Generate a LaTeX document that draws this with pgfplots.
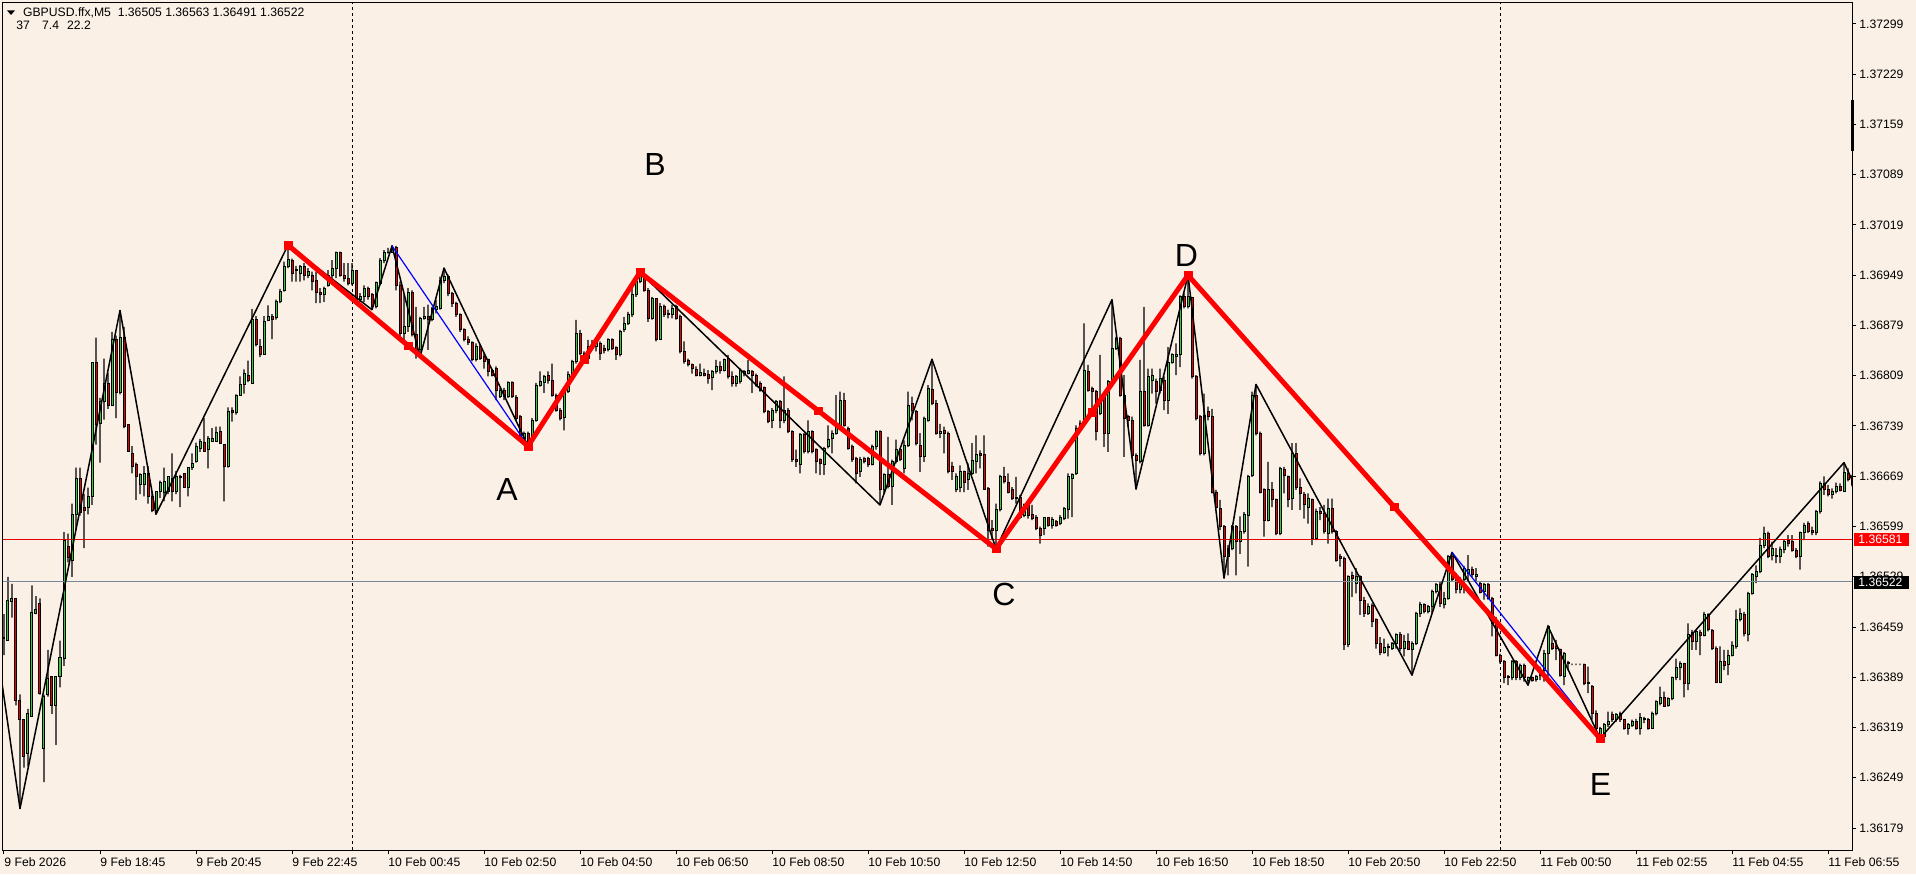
\documentclass[border=0pt]{standalone}
\usepackage{pgfplots}
\pgfplotsset{compat=1.18}
\usepackage{pgfplotstable}
\usepackage{fontspec}
\setmainfont{Liberation Sans}
\definecolor{bg}{RGB}{250,240,230}
\definecolor{bull}{RGB}{50,205,50}
\definecolor{bear}{RGB}{230,0,0}
\definecolor{slate}{RGB}{119,136,153}
\pgfplotstableread{
i o h l c
0 136445 136477 136420 136443
1 136440 136529 136440 136496
2 136494 136519 136472 136499
3 136499 136499 136350 136357
4 136357 136365 136206 136330
5 136330 136330 136263 136278
6 136283 136345 136265 136338
7 136335 136517 136335 136479
8 136478 136502 136477 136483
9 136492 136499 136365 136367
10 136290 136365 136243 136362
11 136365 136427 136362 136387
12 136390 136390 136338 136350
13 136350 136390 136295 136390
14 136390 136440 136375 136417
15 136415 136591 136405 136579
16 136571 136589 136549 136556
17 136551 136631 136529 136616
18 136616 136681 136594 136666
19 136666 136681 136614 136619
20 136625 136644 136569 136621
21 136626 136653 136616 136641
22 136641 136828 136629 136828
23 136828 136862 136713 136741
24 136743 136778 136688 136773
25 136773 136833 136748 136798
26 136798 136813 136763 136768
27 136768 136870 136768 136860
28 136860 136865 136750 136785
29 136785 136900 136783 136862
30 136862 136877 136736 136738
31 136741 136741 136703 136703
32 136701 136711 136673 136683
33 136686 136688 136636 136668
34 136658 136673 136644 136671
35 136658 136683 136641 136673
36 136673 136683 136631 136641
37 136641 136648 136619 136621
38 136621 136648 136616 136648
39 136648 136663 136639 136661
40 136646 136681 136634 136662
41 136648 136668 136644 136668
42 136666 136701 136634 136648
43 136648 136676 136644 136669
44 136669 136671 136626 136667
45 136673 136673 136654 136654
46 136654 136681 136641 136681
47 136681 136701 136678 136687
48 136689 136716 136688 136710
49 136707 136721 136703 136717
50 136716 136750 136703 136703
51 136706 136725 136680 136722
52 136718 136736 136718 136722
53 136718 136738 136718 136730
54 136731 136738 136715 136715
55 136713 136713 136634 136683
56 136683 136765 136681 136759
57 136760 136765 136745 136758
58 136758 136783 136755 136782
59 136782 136808 136781 136797
60 136797 136818 136784 136812
61 136809 136830 136800 136803
62 136798 136902 136798 136887
63 136887 136892 136850 136852
64 136850 136860 136835 136839
65 136839 136892 136838 136885
66 136886 136907 136885 136891
67 136891 136895 136860 136888
68 136890 136915 136887 136912
69 136912 136930 136910 136927
70 136928 136968 136926 136961
71 136961 136991 136959 136971
72 136970 136972 136940 136952
73 136956 136961 136940 136955
74 136952 136963 136940 136961
75 136961 136966 136942 136949
76 136949 136959 136945 136954
77 136949 136954 136928 136940
78 136942 136954 136910 136925
79 136925 136931 136910 136922
80 136922 136933 136912 136931
81 136935 136956 136933 136949
82 136949 136970 136945 136959
83 136959 136982 136945 136980
84 136980 136982 136947 136949
85 136949 136966 136940 136945
86 136945 136966 136935 136937
87 136937 136966 136935 136956
88 136956 136956 136908 136915
89 136915 136924 136912 136920
90 136919 136935 136912 136931
91 136931 136933 136915 136919
92 136922 136924 136901 136906
93 136906 136940 136903 136939
94 136938 136973 136935 136970
95 136970 136984 136966 136980
96 136980 136987 136979 136981
97 136981 136990 136980 136987
98 136987 136990 136928 136935
99 136935 136940 136864 136868
100 136868 136922 136859 136877
101 136877 136931 136870 136925
102 136925 136928 136864 136866
103 136866 136905 136833 136845
104 136845 136891 136835 136889
105 136889 136905 136887 136891
106 136891 136908 136845 136887
107 136887 136905 136885 136902
108 136901 136915 136896 136905
109 136903 136947 136901 136942
110 136942 136959 136938 136947
111 136947 136950 136920 136924
112 136924 136926 136905 136910
113 136910 136912 136891 136894
114 136894 136896 136870 136873
115 136873 136875 136857 136859
116 136859 136864 136852 136855
117 136855 136857 136829 136831
118 136831 136854 136829 136850
119 136850 136853 136831 136833
120 136836 136840 136819 136829
121 136831 136833 136808 136815
122 136817 136819 136808 136810
123 136819 136822 136775 136789
124 136780 136792 136778 136789
125 136789 136792 136775 136780
126 136780 136801 136778 136800
127 136800 136801 136778 136780
128 136779 136782 136747 136750
129 136752 136754 136720 136722
130 136722 136731 136717 136729
131 136729 136731 136711 136715
132 136717 136750 136715 136747
133 136747 136799 136745 136796
134 136796 136815 136794 136801
135 136800 136810 136785 136808
136 136809 136815 136798 136803
137 136802 136826 136780 136782
138 136782 136784 136759 136761
139 136761 136764 136747 136750
140 136751 136789 136733 136787
141 136787 136815 136785 136811
142 136810 136831 136808 136829
143 136829 136887 136826 136868
144 136868 136873 136838 136840
145 136840 136843 136831 136833
146 136833 136859 136831 136850
147 136847 136859 136845 136852
148 136850 136861 136843 136857
149 136854 136857 136831 136840
150 136847 136852 136840 136844
151 136846 136861 136843 136859
152 136860 136861 136845 136847
153 136849 136850 136831 136838
154 136838 136873 136836 136871
155 136873 136891 136870 136882
156 136882 136898 136880 136894
157 136894 136935 136891 136922
158 136922 136947 136919 136940
159 136940 136953 136938 136949
160 136947 136949 136926 136928
161 136928 136931 136884 136889
162 136889 136919 136887 136916
163 136916 136917 136857 136859
164 136860 136910 136859 136906
165 136905 136908 136891 136895
166 136896 136901 136889 136894
167 136894 136908 136889 136903
168 136906 136908 136887 136889
169 136891 136894 136840 136843
170 136843 136857 136826 136829
171 136830 136833 136822 136824
172 136824 136826 136812 136819
173 136818 136822 136808 136809
174 136809 136826 136808 136814
175 136812 136819 136808 136809
176 136811 136817 136798 136805
177 136807 136817 136789 136815
178 136815 136831 136812 136822
179 136822 136829 136812 136816
180 136817 136833 136815 136831
181 136833 136838 136805 136808
182 136808 136815 136794 136798
183 136798 136810 136794 136808
184 136801 136819 136798 136817
185 136815 136817 136808 136812
186 136812 136831 136811 136816
187 136815 136817 136785 136810
188 136810 136812 136794 136796
189 136798 136801 136787 136789
190 136792 136794 136757 136759
191 136759 136761 136743 136745
192 136747 136764 136736 136761
193 136761 136775 136757 136773
194 136773 136775 136736 136747
195 136747 136808 136743 136761
196 136761 136764 136729 136731
197 136731 136733 136689 136692
198 136692 136706 136682 136689
199 136685 136729 136673 136727
200 136727 136729 136701 136703
201 136703 136747 136701 136731
202 136731 136733 136701 136703
203 136706 136708 136673 136689
204 136692 136694 136671 136687
205 136685 136710 136671 136708
206 136710 136740 136708 136720
207 136722 136733 136701 136729
208 136729 136782 136727 136740
209 136740 136787 136738 136775
210 136775 136785 136738 136740
211 136736 136738 136706 136708
212 136710 136713 136689 136692
213 136694 136696 136659 136673
214 136675 136696 136668 136692
215 136694 136696 136687 136689
216 136694 136696 136682 136685
217 136686 136713 136684 136710
218 136710 136733 136706 136731
219 136731 136733 136629 136650
220 136650 136673 136645 136671
221 136671 136724 136652 136655
222 136655 136692 136629 136689
223 136689 136720 136687 136706
224 136706 136708 136690 136692
225 136680 136719 136673 136712
226 136712 136787 136710 136768
227 136770 136780 136747 136761
228 136759 136761 136712 136715
229 136712 136729 136675 136696
230 136696 136752 136689 136749
231 136747 136796 136745 136791
232 136790 136832 136768 136770
233 136771 136775 136727 136729
234 136729 136742 136722 136732
235 136733 136738 136701 136729
236 136729 136731 136673 136675
237 136682 136689 136664 136675
238 136651 136673 136647 136668
239 136654 136684 136647 136675
240 136675 136677 136647 136661
241 136664 136687 136650 136673
242 136673 136715 136671 136691
243 136690 136726 136673 136699
244 136701 136705 136680 136698
245 136699 136726 136650 136650
246 136652 136654 136571 136594
247 136596 136608 136580 136594
248 136594 136631 136568 136622
249 136622 136671 136620 136669
250 136668 136682 136659 136661
251 136661 136673 136645 136647
252 136650 136654 136636 136638
253 136640 136668 136631 136638
254 136639 136643 136610 136612
255 136615 136631 136612 136630
256 136629 136631 136610 136615
257 136616 136629 136608 136610
258 136612 136615 136594 136596
259 136596 136599 136575 136587
260 136596 136612 136587 136611
261 136611 136612 136599 136601
262 136601 136612 136596 136609
263 136606 136608 136599 136601
264 136603 136615 136601 136611
265 136610 136626 136608 136624
266 136622 136673 136610 136668
267 136666 136673 136612 136671
268 136673 136740 136671 136736
269 136736 136747 136733 136743
270 136743 136882 136740 136817
271 136815 136824 136787 136789
272 136791 136794 136756 136787
273 136787 136789 136719 136731
274 136756 136838 136754 136777
275 136780 136782 136710 136729
276 136729 136803 136703 136801
277 136801 136915 136798 136847
278 136847 136863 136845 136861
279 136861 136863 136780 136782
280 136782 136810 136696 136749
281 136752 136754 136738 136747
282 136747 136752 136696 136698
283 136698 136701 136651 136691
284 136689 136831 136687 136787
285 136787 136905 136738 136740
286 136740 136819 136738 136808
287 136803 136819 136784 136810
288 136801 136805 136770 136787
289 136789 136819 136784 136805
290 136803 136808 136761 136775
291 136775 136849 136756 136828
292 136828 136840 136826 136838
293 136836 136854 136810 136838
294 136838 136921 136821 136919
295 136919 136924 136903 136905
296 136905 136949 136903 136919
297 136918 136919 136805 136808
298 136808 136810 136747 136749
299 136752 136754 136698 136701
300 136701 136784 136698 136754
301 136759 136766 136747 136752
302 136752 136763 136645 136647
303 136647 136650 136624 136626
304 136624 136636 136594 136599
305 136599 136601 136527 136557
306 136557 136573 136531 136568
307 136568 136601 136566 136599
308 136599 136601 136531 136578
309 136578 136613 136561 136592
310 136592 136619 136589 136616
311 136615 136671 136543 136668
312 136670 136787 136668 136782
313 136782 136797 136726 136729
314 136729 136731 136645 136647
315 136650 136652 136585 136608
316 136608 136689 136606 136650
317 136650 136661 136626 136636
318 136636 136638 136587 136589
319 136589 136682 136587 136680
320 136678 136682 136645 136670
321 136668 136670 136626 136636
322 136638 136715 136622 136701
323 136701 136715 136650 136654
324 136654 136666 136622 136645
325 136643 136647 136610 136629
326 136626 136645 136603 136638
327 136636 136638 136573 136582
328 136582 136624 136580 136620
329 136620 136626 136608 136617
330 136617 136629 136589 136592
331 136589 136638 136575 136624
332 136624 136638 136589 136592
333 136592 136594 136550 136552
334 136557 136561 136543 136554
335 136554 136557 136427 136434
336 136434 136531 136431 136529
337 136531 136536 136501 136527
338 136520 136541 136506 136529
339 136529 136531 136476 136496
340 136496 136501 136473 136478
341 136478 136492 136476 136487
342 136489 136492 136459 136466
343 136469 136471 136429 136436
344 136436 136445 136420 136424
345 136424 136443 136422 136431
346 136431 136436 136418 136432
347 136429 136438 136427 136436
348 136436 136450 136429 136448
349 136448 136452 136425 136429
350 136429 136448 136418 136439
351 136439 136450 136427 136427
352 136427 136439 136392 136436
353 136436 136480 136434 136478
354 136478 136494 136473 136491
355 136490 136492 136478 136480
356 136480 136490 136478 136487
357 136487 136511 136478 136508
358 136508 136520 136506 136518
359 136518 136522 136487 136492
360 136490 136508 136485 136499
361 136499 136559 136497 136557
362 136557 136563 136522 136525
363 136525 136534 136506 136511
364 136511 136529 136506 136525
365 136525 136544 136506 136541
366 136534 136559 136522 136539
367 136539 136543 136529 136532
368 136530 136541 136520 136532
369 136520 136522 136506 136507
370 136508 136520 136497 136518
371 136518 136520 136497 136499
372 136499 136501 136446 136464
373 136464 136473 136418 136420
374 136420 136422 136408 136411
375 136411 136413 136381 136388
376 136390 136392 136378 136388
377 136388 136413 136385 136411
378 136411 136413 136385 136388
379 136388 136408 136385 136406
380 136406 136408 136383 136388
381 136385 136390 136378 136388
382 136388 136390 136383 136385
383 136386 136392 136383 136390
384 136392 136404 136385 136399
385 136399 136427 136383 136422
386 136422 136462 136390 136460
387 136436 136448 136427 136429
388 136432 136441 136413 136429
389 136427 136429 136390 136392
390 136390 136424 136378 136422
391 136408 136411 136399 136407
392 136407 136408 136406 136407
393 136407 136408 136406 136407
394 136407 136408 136406 136407
395 136407 136408 136378 136381
396 136382 136404 136367 136380
397 136376 136378 136330 136339
398 136339 136343 136306 136318
399 136306 136320 136302 136318
400 136306 136325 136304 136323
401 136323 136341 136320 136327
402 136337 136341 136327 136330
403 136330 136339 136327 136337
404 136339 136341 136327 136330
405 136330 136331 136316 136318
406 136318 136325 136309 136323
407 136322 136330 136320 136328
408 136328 136331 136316 136318
409 136318 136339 136309 136333
410 136332 136334 136325 136330
411 136330 136332 136316 136318
412 136318 136341 136317 136339
413 136339 136357 136336 136355
414 136353 136376 136350 136361
415 136361 136369 136348 136348
416 136350 136361 136348 136359
417 136359 136390 136357 136388
418 136388 136415 136385 136402
419 136402 136411 136385 136408
420 136408 136409 136361 136380
421 136380 136464 136371 136448
422 136451 136455 136427 136439
423 136439 136455 136427 136453
424 136451 136455 136420 136447
425 136447 136480 136446 136476
426 136476 136478 136453 136455
427 136454 136456 136427 136429
428 136429 136432 136381 136382
429 136382 136432 136381 136411
430 136411 136427 136399 136406
431 136407 136427 136392 136419
432 136419 136439 136418 136433
433 136432 136483 136429 136470
434 136470 136485 136467 136478
435 136477 136480 136446 136450
436 136448 136508 136439 136506
437 136506 136534 136504 136532
438 136530 136545 136520 136536
439 136536 136583 136534 136573
440 136573 136599 136569 136589
441 136589 136592 136555 136557
442 136559 136578 136552 136569
443 136559 136569 136548 136557
444 136557 136571 136548 136567
445 136567 136581 136562 136578
446 136580 136587 136571 136576
447 136578 136587 136564 136566
448 136566 136569 136555 136557
449 136557 136592 136539 136590
450 136590 136604 136580 136601
451 136603 136606 136590 136592
452 136593 136599 136587 136590
453 136590 136622 136587 136620
454 136620 136662 136617 136659
455 136659 136669 136643 136650
456 136651 136657 136641 136643
457 136643 136652 136638 136648
458 136648 136660 136645 136655
459 136655 136659 136648 136649
460 136648 136688 136648 136674
461 136673 136680 136662 136664
462 136668 136671 136655 136657
}\candles
\begin{document}
\begin{tikzpicture}
\fill[bg] (-1.5pt,-12pt) rectangle (956.5pt,425pt);
\path[use as bounding box] (-1.5pt,-12pt) rectangle (956.5pt,425pt);
% axis 1: frame, ticks and candles (y = price minus 1.36000, in points)
\begin{axis}[
  at={(0,0)}, anchor=south west,
  scale only axis, width=924.5pt, height=423.5pt,
  xmin=-0.25, xmax=462, ymin=148.4, ymax=1328.2,
  ybar stacked,
  scaled ticks=false,
  axis line style={black, line width=0.5pt},
  xtick={0,24,48,72,96,120,144,168,192,216,240,264,288,312,336,360,384,408,432,456},
  xticklabels={9 Feb 2026,9 Feb 18:45,9 Feb 20:45,9 Feb 22:45,10 Feb 00:45,10 Feb 02:50,10 Feb 04:50,10 Feb 06:50,10 Feb 08:50,10 Feb 10:50,10 Feb 12:50,10 Feb 14:50,10 Feb 16:50,10 Feb 18:50,10 Feb 20:50,10 Feb 22:50,11 Feb 00:50,11 Feb 02:55,11 Feb 04:55,11 Feb 06:55},
  ytick={179,249,319,389,459,529,599,669,739,809,879,949,1019,1089,1159,1229,1299},
  yticklabels={1.36179,1.36249,1.36319,1.36389,1.36459,1.36529,1.36599,1.36669,1.36739,1.36809,1.36879,1.36949,1.37019,1.37089,1.37159,1.37229,1.37299},
  ytick pos=right, yticklabel pos=right,
  xtick pos=bottom,
  tick align=outside,
  major tick length=2pt,
  tick style={black, line width=0.5pt},
  ticklabel style={font=\fontsize{6.1}{7}\selectfont, text=black, inner sep=0pt},
  xticklabel style={anchor=north west, yshift=-1.5pt},
  yticklabel style={anchor=west, xshift=1.5pt},
  extra x ticks={87,374}, extra x tick labels={},
  extra x tick style={grid=major, major grid style={black, line width=0.5pt, dash pattern=on 1.5pt off 1.5pt}, major tick length=0pt},
]
% invisible base up to the low
\addplot[draw=none, fill=none, bar width=0.6pt] table[x=i, y expr={\thisrow{l}-136000}] {\candles};
% lower wick: low to body bottom
\addplot[draw=none, fill=black, bar width=0.6pt] table[x=i, y expr={min(\thisrow{o},\thisrow{c})-\thisrow{l}}] {\candles};
% bodies
\addplot[draw=black, fill=bull, line width=0.5pt, bar width=1pt] table[x=i, y expr={max(\thisrow{c}-\thisrow{o},0)}] {\candles};
\addplot[draw=black, fill=bear, line width=0.5pt, bar width=1pt] table[x=i, y expr={max(\thisrow{o}-\thisrow{c},0)}] {\candles};
% upper wick: body top to high
\addplot[draw=none, fill=black, bar width=0.6pt] table[x=i, y expr={\thisrow{h}-max(\thisrow{o},\thisrow{c})}] {\candles};
\end{axis}
% axis 2: lines and pattern on top, in prices
\begin{axis}[
  at={(0,0)}, anchor=south west,
  scale only axis, width=924.5pt, height=423.5pt,
  xmin=-0.25, xmax=462, ymin=136148.4, ymax=137328.2,
  hide axis,
]
\addplot[red!90!black, line width=0.5pt] coordinates {(-1,136581) (463,136581)};
\addplot[slate, line width=0.5pt] coordinates {(-1,136522) (463,136522)};
\addplot[black, line width=0.75pt, line join=round] coordinates {
(-3,136478) (4,136206) (29,136900) (38,136616) (71,136991) (92,136901) (97,136990) (104,136835) (110,136959) (131,136711) (159,136953) (219,136629) (232,136832) (248,136568) (277,136915) (283,136651) (296,136949) (305,136527) (313,136797) (352,136392) (362,136563) (381,136378) (386,136460) (399,136304) (460,136688) (462,136664)};
\addplot[blue, line width=0.6pt] coordinates {(97,136990) (131,136711)};
\addplot[blue, line width=0.6pt] coordinates {(362,136563) (399,136304)};
\addplot[red, line width=2.5pt, line join=round, mark=square*, mark size=1.9pt, mark options={solid, fill=red, draw=red, line width=0.1pt}] coordinates {
(71,136991) (101,136851) (131,136711) (145,136832) (159,136953) (203.5,136760.5) (248,136568) (272,136758.5) (296,136949) (347.5,136626.5) (399,136304)};
\node[font=\fontsize{16}{18}\selectfont] at (axis cs:125.75,136650) {A};
\node[font=\fontsize{16}{18}\selectfont] at (axis cs:162.75,137103) {B};
\node[font=\fontsize{16}{18}\selectfont] at (axis cs:250,136504) {C};
\node[font=\fontsize{16}{18}\selectfont] at (axis cs:295.6,136977) {D};
\node[font=\fontsize{16}{18}\selectfont] at (axis cs:399.1,136239) {E};
\end{axis}
% right axis marker
\fill[black] (924pt,349.5pt) rectangle (925.7pt,375pt);
% price boxes
\fill[red] (925.5pt,152pt) rectangle (953pt,158.5pt);
\node[anchor=west, inner sep=0pt, text=white, font=\fontsize{6.1}{7}\selectfont] at (927.5pt,155.25pt) {1.36581};
\fill[black] (925.5pt,130.5pt) rectangle (953pt,137pt);
\node[anchor=west, inner sep=0pt, text=white, font=\fontsize{6.1}{7}\selectfont] at (927.5pt,133.75pt) {1.36522};
% header
\fill[black] (2pt,419.8pt) -- (6pt,419.8pt) -- (4pt,417.5pt) -- cycle;
\node[anchor=west, inner sep=0pt, font=\fontsize{6.1}{7}\selectfont] at (9.85pt,418.5pt) {GBPUSD.ffx,M5\ \ 1.36505 1.36563 1.36491 1.36522};
\node[anchor=west, inner sep=0pt, font=\fontsize{6.1}{7}\selectfont] at (6.5pt,412.5pt) {37};
\node[anchor=west, inner sep=0pt, font=\fontsize{6.1}{7}\selectfont] at (19.35pt,412.5pt) {7.4};
\node[anchor=west, inner sep=0pt, font=\fontsize{6.1}{7}\selectfont] at (31.85pt,412.5pt) {22.2};
\end{tikzpicture}
\end{document}
